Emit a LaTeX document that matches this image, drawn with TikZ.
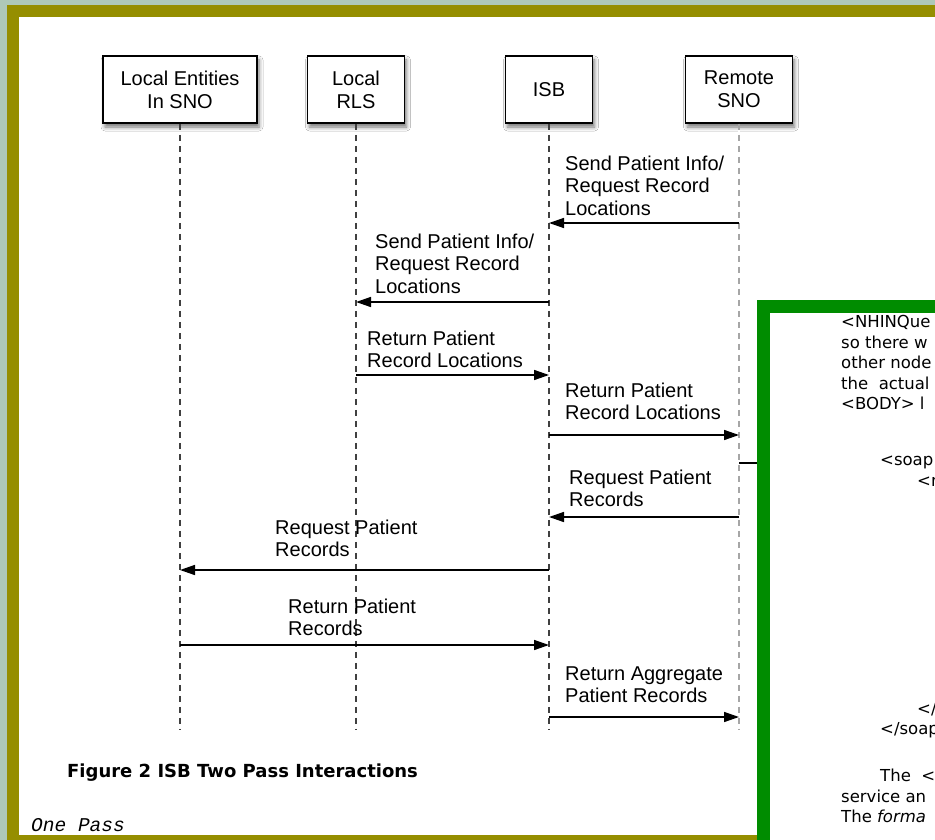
\documentclass[tikz,border=0pt]{standalone}
\usepackage{fontspec}
\setmainfont{Liberation Sans}
\newfontfamily\docfont{DejaVu Sans}
\newfontfamily\codefont{Liberation Mono}
\usepackage{tikz}
\usetikzlibrary{arrows.meta,shadows.blur}
\definecolor{frameback}{RGB}{174,200,184}
\definecolor{frameolive}{RGB}{149,142,0}
\definecolor{boxgreen}{RGB}{0,140,0}
\tikzset{
  actor/.style={draw=black, line width=1.6pt, fill=white, align=center,
    minimum height=67pt, inner sep=2pt, font=\fontsize{20}{23}\selectfont,
    blur shadow={shadow xshift=2pt, shadow yshift=-4pt, shadow blur radius=4pt, shadow opacity=55}},
  life/.style={draw=black!75, line width=1.3pt, dash pattern=on 6pt off 5pt},
  msg/.style={draw=black, line width=1.5pt, -{Triangle[length=15pt,width=10pt]}},
  slbl/.style={font=\fontsize{20}{22.5}\selectfont, align=left, anchor=base west, inner sep=0pt},
  doc/.style={font=\docfont\fontsize{16.5}{19}\selectfont, anchor=base west, inner sep=0pt}
}
\begin{document}
\begin{tikzpicture}[x=1pt, y=-1pt]
    \useasboundingbox (0,0) rectangle (935,840);
    % frame
    \fill[frameback] (0,0) rectangle (935,840);
    \fill[frameolive] (7,5) rectangle (935,840);
    \fill[white] (19,17) rectangle (935,835);
    % participants and lifelines
    \foreach \x/\nm/\w/\txt in {180/loc/154/{Local Entities\\In SNO}, 356/rls/97/{Local\\RLS},
        549/isb/87/{ISB}, 739/sno/107/{Remote\\SNO}}{
      \node[actor, minimum width=\w pt] (\nm) at (\x,89.5) {\txt};
      \draw[life] (\nm.south) -- (\nm.south |- 0,730);
    }
    \draw[white, line width=1.5pt] (sno.south) -- (sno.south |- 0,730);
    \draw[life, draw=black!35] (sno.south) -- (sno.south |- 0,730);
    % messages (label anchor = baseline of last line)
    \def\m#1#2#3{\draw[msg] (#1 |- 0,#3) -- (#2 |- 0,#3);}
    \m{sno}{isb}{223}
    \node[slbl] (l1) at (565,215) {Send Patient Info/\\Request Record\\Locations};
    \m{isb}{rls}{302}
    \node[slbl] (l2) at (375,293) {Send Patient Info/\\Request Record\\Locations};
    \m{rls}{isb}{375}
    \node[slbl] (l3) at (367,367.5) {Return Patient\\Record Locations};
    \m{isb}{sno}{435}
    \node[slbl] (l4) at (565,419.5) {Return Patient\\Record Locations};
    \m{sno}{isb}{517}
    \node[slbl] (l5) at (569,506.5) {Request Patient\\Records};
    \m{isb}{loc}{570}
    \node[slbl] (l6) at (275,556.5) {Request Patient\\Records};
    \m{loc}{isb}{645}
    \node[slbl] (l7) at (288,635.5) {Return Patient\\Records};
    \m{isb}{sno}{717}
    \node[slbl] (l8) at (565,702.5) {Return Aggregate\\Patient Records};
    % page text
    \node[font=\docfont\bfseries\fontsize{18}{20}\selectfont, anchor=base west, inner sep=0pt]
      (cap) at (67,777) {Figure 2 ISB Two Pass Interactions};
    \node[font=\codefont\itshape\fontsize{19.5}{20}\selectfont, anchor=base west, inner sep=0pt]
      (pass) at (31,831) {One Pass};
    % overlapping document box
    \coordinate (gleft) at (757,463);
    \draw[line width=2pt] (sno |- gleft) -- (gleft);
    \draw[boxgreen, line width=13pt, fill=white] (763.5,306.5) rectangle (960,880);
    \begin{scope}
      \clip (770,313) rectangle (935,835);
      \node[doc] (d1) at (841,327.5) {<NHINQue};
      \node[doc] (d2) at (841,348) {so there w};
      \node[doc] (d3) at (841,368.5) {other node};
      \node[doc] (d4) at (841,389) {the\ \ actual};
      \node[doc] (d5) at (841,409.5) {<BODY> l};
      \node[doc] (d6) at (880,465.5) {<soap};
      \node[doc] (d7) at (917,486) {<r};
      \node[doc] (d8) at (917,714.5) {</};
      \node[doc] (d9) at (880,734.5) {</soap};
      \node[doc] (d10) at (880,781.5) {The\ \ <};
      \node[doc] (d11) at (841,802) {service an};
      \node[doc] (d12) at (841,822.5) {The \textit{forma}};
    \end{scope}
\end{tikzpicture}
\end{document}
